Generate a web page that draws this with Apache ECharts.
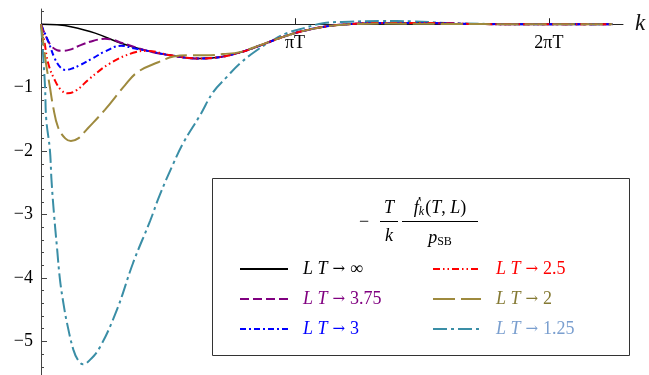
<!DOCTYPE html>
<html>
<head>
<meta charset="utf-8">
<script src="https://cdn.jsdelivr.net/npm/echarts@6/dist/echarts.min.js"></script>
<style>
  html, body {margin: 0; padding: 0; background: #fff;}
  #chart {width: 649px; height: 375px;}
</style>
</head>
<body>
<div id="chart"></div>
<script>
// values: [k / T, -(T/k) fdot / pSB]
const lt_inf = [[0,0],[0.2,-0.01],[0.37,-0.04],[0.67,-0.14],[0.99,-0.3],[1.32,-0.42],[1.6,-0.49],[1.95,-0.54],[2.2,-0.52],[2.45,-0.45],[2.7,-0.34],[2.95,-0.22],[3.2,-0.12],[3.5,-0.04],[3.8,0],[4.2,0.02],[4.7,0.02],[5.3,0.005],[6,0],[7.07,0]];
const lt_375_head = [[0,0],[0.05,-0.16],[0.12,-0.33],[0.2,-0.41],[0.27,-0.42],[0.36,-0.4],[0.49,-0.33],[0.65,-0.26],[0.79,-0.23],[0.9,-0.25],[0.99,-0.29]];
const lt_3_head = [[0,0],[0.04,-0.12],[0.09,-0.27],[0.17,-0.54],[0.24,-0.68],[0.3,-0.72],[0.38,-0.7],[0.49,-0.64],[0.65,-0.53],[0.79,-0.43],[0.99,-0.34],[1.15,-0.38]];
const lt_25_head = [[0,0],[0.04,-0.26],[0.09,-0.62],[0.17,-0.88],[0.25,-1.04],[0.33,-1.09],[0.44,-1.04],[0.6,-0.86],[0.85,-0.62],[1.14,-0.45]];
const lt_2 = [[0,0],[0.03,-0.3],[0.06,-0.6],[0.11,-0.99],[0.15,-1.3],[0.21,-1.62],[0.3,-1.8],[0.37,-1.84],[0.46,-1.8],[0.58,-1.64],[0.79,-1.35],[1.04,-0.96],[1.2,-0.75],[1.45,-0.6],[1.64,-0.51],[1.85,-0.49],[2.05,-0.49],[2.25,-0.47],[2.46,-0.44],[2.71,-0.33],[2.95,-0.22],[3.2,-0.12],[3.5,-0.04],[3.82,0],[4.3,0.01],[5,0.005],[6,0],[7.07,0]];
const lt_125 = [[0,0],[0.025,-0.46],[0.05,-0.99],[0.065,-1.5],[0.11,-1.98],[0.13,-2.46],[0.16,-2.98],[0.2,-3.55],[0.235,-4.03],[0.28,-4.42],[0.32,-4.7],[0.4,-5.13],[0.46,-5.3],[0.52,-5.36],[0.6,-5.3],[0.73,-5.09],[0.94,-4.5],[1.14,-3.76],[1.35,-3.1],[1.47,-2.69],[1.64,-2.19],[1.76,-1.87],[1.97,-1.43],[2.13,-1.07],[2.3,-0.83],[2.46,-0.62],[2.67,-0.41],[2.87,-0.25],[3.04,-0.14],[3.2,-0.08],[3.49,0.015],[3.82,0.04],[4.2,0.05],[4.6,0.045],[5,0.02],[5.5,0.005],[6.2,0],[7.07,0]];

const tail = lt_inf.filter(p => p[0] >= 1.32);
const lt_375 = lt_375_head.concat(tail);
const lt_3 = lt_3_head.concat(tail);
const lt_25 = lt_25_head.concat(tail);

const names = ['LT → ∞', 'LT → 3.75', 'LT → 3', 'LT → 2.5', 'LT → 2', 'LT → 1.25'];
const limits = ['∞', '3.75', '3', '2.5', '2', '1.25'];
const lineColors = ['#000000', '#800080', '#0000ff', '#ff0000', '#9e8a3e', '#3a8ea6'];
const textColors = ['#000000', '#800080', '#0000ff', '#ff0000', '#857a34', '#7a9fcf'];
const dashes = ['solid', [9, 4], [6, 3, 2, 3], [7, 3, 1.5, 3, 1.5, 3], [22, 6], [14, 4, 3, 4]];
const seriesData = [lt_inf, lt_375, lt_3, lt_25, lt_2, lt_125];

const yMajor = [-5, -4, -3, -2, -1];
const yMinor = [];
for (let v = -5.4; v <= 0.21; v += 0.2) {
  const r = Math.round(v * 10) / 10;
  if (Math.abs(r - Math.round(r)) > 0.01) yMinor.push(r);
}
const xTicks = [Math.PI, 2 * Math.PI];

const serif = 'Liberation Serif';
const yMin = -5.53, yMax = 0.24;

var chartDom = document.getElementById('chart');
var myChart = echarts.init(chartDom);

var rich = {s: {width: 10}};
for (let i = 0; i < names.length; i++) {
  rich['i' + i] = {fontFamily: serif, fontStyle: 'italic', fontSize: 18, color: textColors[i], lineHeight: 14};
  rich['a' + i] = {fontFamily: 'DejaVu Serif', fontSize: 15, color: textColors[i], lineHeight: 14, padding: [0, 5, 0, 5]};
  rich['n' + i] = {fontFamily: serif, fontSize: 18, color: textColors[i], lineHeight: 14};
}
const legendFmt = name => {
  const i = names.indexOf(name);
  return '{s|}{i' + i + '|L T}{a' + i + '|→}{n' + i + '|' + limits[i] + '}';
};
const legendBase = {
  orient: 'vertical', top: 260, padding: 0, itemGap: 12,
  itemWidth: 48, itemHeight: 14, selectedMode: false,
  itemStyle: {opacity: 0},
  formatter: legendFmt, textStyle: {rich: rich}
};

var series = seriesData.map((d, i) => ({
  name: names[i], type: 'line', data: d, showSymbol: false, symbol: 'none',
  smooth: 0.4, z: 3 + (i === 5 ? 0 : 1),
  lineStyle: {color: lineColors[i], width: i === 0 ? 1.5 : 2, type: dashes[i]},
  itemStyle: {color: lineColors[i]}
}));

var option = {
  animation: false,
  grid: {left: 41, right: 26, top: 9, height: 366},
  xAxis: {
    type: 'value', min: 0, max: 7.2, position: 'top', offset: -(yMax / (yMax - yMin)) * 366,
    name: 'k', nameLocation: 'end', nameGap: 12,
    nameTextStyle: {fontFamily: serif, fontStyle: 'italic', fontSize: 23, color: '#111'},
    axisLine: {onZero: false, lineStyle: {color: '#222', width: 1}},
    axisTick: {inside: false, length: 6, customValues: xTicks, lineStyle: {color: '#222'}},
    axisLabel: {inside: true, customValues: xTicks, margin: 10, fontFamily: serif, fontSize: 18, color: '#000',
      formatter: v => v < 4 ? 'πT' : '2πT'},
    splitLine: {show: false}
  },
  yAxis: [
    {
      type: 'value', min: yMin, max: yMax,
      axisLine: {show: true, onZero: false, lineStyle: {color: '#444', width: 1}},
      axisTick: {inside: true, length: 6, customValues: yMajor, lineStyle: {color: '#444'}},
      axisLabel: {customValues: yMajor, margin: 8, fontFamily: serif, fontSize: 18, color: '#000',
        formatter: v => '−' + Math.abs(v)},
      splitLine: {show: false}
    },
    {
      type: 'value', min: yMin, max: yMax, position: 'left',
      axisLine: {show: false},
      axisTick: {show: true, inside: true, length: 3, customValues: yMinor, lineStyle: {color: '#444'}},
      axisLabel: {show: false},
      splitLine: {show: false}
    }
  ],
  legend: [
    Object.assign({left: 239, data: names.slice(0, 3)}, legendBase),
    Object.assign({left: 432, data: names.slice(3)}, legendBase)
  ],
  graphic: [
    {type: 'rect', z: 1, shape: {x: 212.5, y: 178.5, width: 417, height: 177},
      style: {fill: '#fff', stroke: '#333', lineWidth: 1}},
    {type: 'text', z: 2, style: {x: 364, y: 222, text: '−', font: '18px ' + serif, fill: '#000', textAlign: 'center', textVerticalAlign: 'middle'}},
    {type: 'text', z: 2, style: {x: 389, y: 208, text: 'T', font: 'italic 18px ' + serif, fill: '#000', textAlign: 'center', textVerticalAlign: 'middle'}},
    {type: 'line', z: 2, shape: {x1: 380, y1: 221.5, x2: 398, y2: 221.5}, style: {stroke: '#000', lineWidth: 1}},
    {type: 'text', z: 2, style: {x: 389, y: 236, text: 'k', font: 'italic 18px ' + serif, fill: '#000', textAlign: 'center', textVerticalAlign: 'middle'}},
    {type: 'text', z: 2, style: {x: 440, y: 208, text: '{i|ḟ}{s|k}{n|(}{i|T}{n|, }{i|L}{n|)}',
      textAlign: 'center', textVerticalAlign: 'middle',
      rich: {i: {font: 'italic 18px ' + serif, fill: '#000'}, n: {font: '18px ' + serif, fill: '#000'},
        s: {font: 'italic 12px ' + serif, fill: '#000', padding: [8, 1, 0, 0]}}}},
    {type: 'line', z: 2, shape: {x1: 402, y1: 221.5, x2: 478, y2: 221.5}, style: {stroke: '#000', lineWidth: 1}},
    {type: 'text', z: 2, style: {x: 440, y: 238, text: '{i|p}{s|SB}',
      textAlign: 'center', textVerticalAlign: 'middle',
      rich: {i: {font: 'italic 18px ' + serif, fill: '#000'}, s: {font: '12px ' + serif, fill: '#000', padding: [8, 0, 0, 0]}}}}
  ],
  series: series
};

option && myChart.setOption(option);
</script>
</body>
</html>
